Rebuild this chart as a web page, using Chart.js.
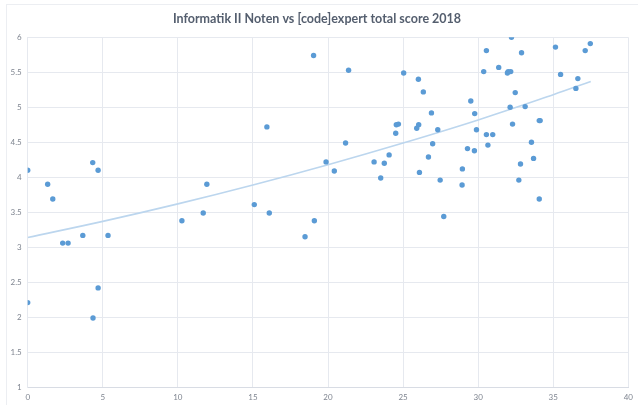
<!DOCTYPE html>
<html>
<head>
<meta charset="utf-8">
<script src="https://cdn.jsdelivr.net/npm/chart.js@4.4.1/dist/chart.umd.min.js"></script>
<style>
  html, body { margin: 0; padding: 0; background: #fff; }
  #wrap { width: 638px; height: 405px; }
</style>
</head>
<body>
<div id="wrap"><canvas id="chart" width="638" height="405"></canvas></div>
<script>
// [code]expert total score (x) vs Informatik II grade (y)
const scores = [
  0, 1.33, 1.67, 2.33, 2.69, 3.67, 4.33, 4.69, 5.35, 4.69, 4.35, 0,
  10.27, 11.69, 11.93, 15.09, 16.09, 15.93, 19.04, 21.37, 18.47, 19.09,
  19.87, 20.42, 21.17, 23.07, 23.51, 23.75, 24.07, 24.51, 24.55, 24.69,
  25.04, 26.02, 26.35, 25.91, 26.04, 26.89, 27.31, 26.97, 26.69, 26.09,
  27.47, 27.71, 28.95, 28.93, 29.29, 29.75, 29.51, 29.77, 29.89, 30.55,
  30.97, 30.65, 30.37, 30.55, 31.37, 31.95, 32.00, 32.17, 32.22, 32.89,
  32.47, 32.13, 33.13, 32.29, 33.55, 33.69, 32.82, 32.71, 34.07, 34.07,
  34.13, 35.15, 35.49, 36.64, 36.51, 37.13, 37.47
];
const grades = [
  4.10, 3.90, 3.69, 3.06, 3.06, 3.17, 4.21, 4.10, 3.17, 2.42, 1.99, 2.21,
  3.38, 3.49, 3.90, 3.61, 3.49, 4.72, 5.74, 5.53, 3.15, 3.38,
  4.22, 4.09, 4.49, 4.22, 3.99, 4.20, 4.32, 4.63, 4.75, 4.76,
  5.49, 5.40, 5.22, 4.70, 4.75, 4.92, 4.68, 4.48, 4.29, 4.07,
  3.96, 3.44, 4.12, 3.89, 4.41, 4.38, 5.09, 4.91, 4.68, 4.61,
  4.61, 4.46, 5.51, 5.81, 5.57, 5.49, 5.51, 5.51, 6.00, 5.78,
  5.21, 5.00, 5.01, 4.76, 4.50, 4.27, 4.19, 3.96, 3.69, 4.81,
  4.81, 5.86, 5.47, 5.41, 5.27, 5.81, 5.91
];

// trend line
const trendX = [0, 5, 10, 15, 20, 25, 30, 35, 37.5];
const trendY = [3.14, 3.37, 3.62, 3.89, 4.18, 4.49, 4.82, 5.18, 5.37];

const xTicks = [0, 5, 10, 15, 20, 25, 30, 35, 40];
const yTicks = [1, 1.5, 2, 2.5, 3, 3.5, 4, 4.5, 5, 5.5, 6];

const title = 'Informatik II Noten vs [code]expert total score 2018';

const gridColor = '#e6e9ef';
const tickColor = '#7f8590';
const font = "Lato, 'Open Sans', sans-serif";

// faint frame like the exported chart box
const framePlugin = {
  id: 'frame',
  beforeDraw(chart) {
    const c = chart.ctx;
    c.save();
    c.strokeStyle = '#eceef2';
    c.lineWidth = 1;
    c.strokeRect(6.5, 4.5, 640, 410);
    c.restore();
  }
};

new Chart(document.getElementById('chart'), {
  type: 'scatter',
  data: {
    datasets: [
      {
        label: 'Noten',
        data: scores.map((x, i) => ({ x: x, y: grades[i] })),
        backgroundColor: '#5b9bd5',
        borderColor: '#5b9bd5',
        pointRadius: 2.7,
        pointBorderWidth: 0,
        order: 1
      },
      {
        type: 'line',
        label: 'Trend',
        data: trendX.map((x, i) => ({ x: x, y: trendY[i] })),
        borderColor: '#bcd6ee',
        borderWidth: 1.6,
        pointRadius: 0,
        tension: 0.4,
        fill: false,
        order: 2
      }
    ]
  },
  options: {
    responsive: false,
    animation: false,
    layout: { padding: { left: 5.7, right: 9.7, top: 0, bottom: 0 } },
    plugins: {
      legend: { display: false },
      tooltip: { enabled: false },
      title: {
        display: true,
        text: title,
        color: '#545e6e',
        font: { family: font, size: 12.5, weight: 'bold' },
        padding: { top: 11.5, bottom: 10.8 }
      }
    },
    scales: {
      x: {
        type: 'linear',
        min: 0,
        max: 40,
        afterBuildTicks(scale) { scale.ticks = xTicks.map(v => ({ value: v })); },
        afterFit(scale) {
          scale.height = 17.7;
          scale.paddingLeft = 0;
          scale.paddingRight = 0;
        },
        grid: { color: gridColor, drawTicks: false },
        border: { color: '#d8dce4' },
        ticks: { color: tickColor, font: { family: font, size: 8 }, padding: 5, callback: v => String(v) }
      },
      y: {
        type: 'linear',
        min: 1,
        max: 6,
        afterBuildTicks(scale) { scale.ticks = yTicks.map(v => ({ value: v })); },
        afterFit(scale) {
          scale.width = 22;
          scale.paddingTop = 0;
          scale.paddingBottom = 0;
        },
        grid: { color: gridColor, drawTicks: false },
        border: { color: gridColor },
        ticks: { color: tickColor, font: { family: font, size: 8 }, padding: 6, callback: v => String(v) }
      }
    }
  },
  plugins: [framePlugin]
});
</script>
</body>
</html>
